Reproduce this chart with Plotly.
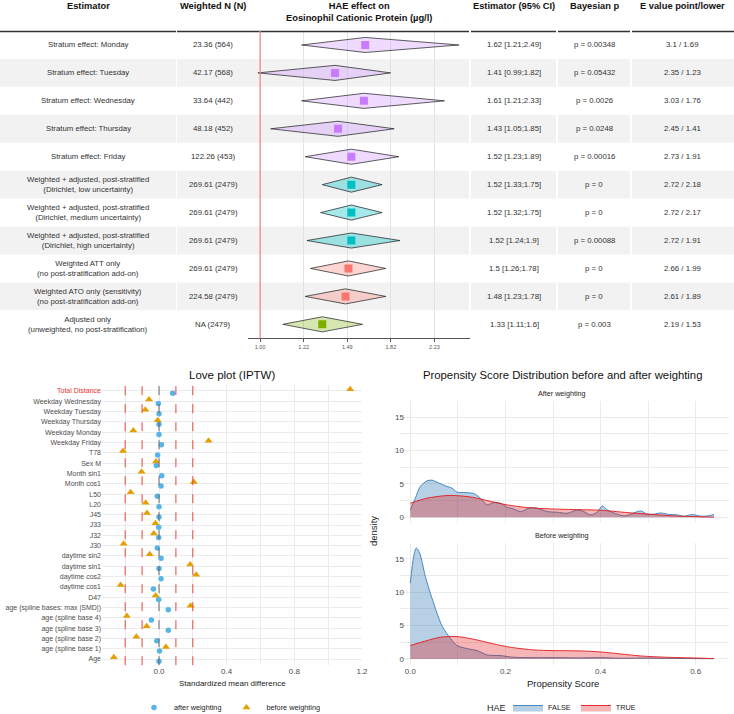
import plotly.graph_objects as go
import math

FONT = "Liberation Sans, Arial, sans-serif"
W, H = 734, 714


def px(x):
    return x / W


def py(y):
    return 1 - y / H


# ---------------- forest table data ----------------
estimators = [
    "Stratum effect: Monday",
    "Stratum effect: Tuesday",
    "Stratum effect: Wednesday",
    "Stratum effect: Thursday",
    "Stratum effect: Friday",
    "Weighted + adjusted, post-stratified<br>(Dirichlet, low uncertainty)",
    "Weighted + adjusted, post-stratified<br>(Dirichlet, medium uncertainty)",
    "Weighted + adjusted, post-stratified<br>(Dirichlet, high uncertainty)",
    "Weighted ATT only<br>(no post-stratification add-on)",
    "Weighted ATO only (sensitivity)<br>(no post-stratification add-on)",
    "Adjusted only<br>(unweighted, no post-stratification)",
]
weighted_n = ["23.36 (564)", "42.17 (568)", "33.64 (442)", "48.18 (452)", "122.26 (453)",
              "269.61 (2479)", "269.61 (2479)", "269.61 (2479)", "269.61 (2479)",
              "224.58 (2479)", "NA (2479)"]
est = [1.62, 1.41, 1.61, 1.43, 1.52, 1.52, 1.52, 1.52, 1.5, 1.48, 1.33]
ci_lo = [1.21, 0.99, 1.21, 1.05, 1.23, 1.33, 1.32, 1.24, 1.26, 1.23, 1.11]
ci_hi = [2.49, 1.82, 2.33, 1.85, 1.89, 1.75, 1.75, 1.9, 1.78, 1.78, 1.6]
p_text = ["p = 0.00348", "p = 0.05432", "p = 0.0026", "p = 0.0248", "p = 0.00016",
          "p = 0", "p = 0", "p = 0.00088", "p = 0", "p = 0", "p = 0.003"]
evalue_text = ["3.1 / 1.69", "2.35 / 1.23", "3.03 / 1.76", "2.45 / 1.41", "2.73 / 1.91",
               "2.72 / 2.18", "2.72 / 2.17", "2.72 / 1.91", "2.66 / 1.99", "2.61 / 1.89",
               "2.19 / 1.53"]
groups = ["strata"] * 5 + ["dirichlet"] * 3 + ["weighted"] * 2 + ["adjusted"]
forest_ticks = [1.0, 1.2214, 1.4918, 1.8221, 2.2255]
forest_ticktext = ["1.00", "1.22", "1.49", "1.82", "2.23"]
headers = ["Estimator", "Weighted N (N)",
           "HAE effect on<br>Eosinophil Cationic Protein (µg/l)",
           "Estimator (95% CI)", "Bayesian p", "E value point/lower"]

# ---------------- love plot data ----------------
covariates = ["Total Distance", "Weekday Wednesday", "Weekday Tuesday", "Weekday Thursday",
              "Weekday Monday", "Weekday Friday", "T78", "Sex M", "Month sin1", "Month cos1",
              "L50", "L20", "J45", "J33", "J32", "J30", "daytime sin2", "daytime sin1",
              "daytime cos2", "daytime cos1", "D47", "age (spline bases: max |SMD|)",
              "age (spline base 4)", "age (spline base 3)", "age (spline base 2)",
              "age (spline base 1)", "Age"]
smd_before = [1.13, -0.059, -0.081, -0.008, -0.152, 0.293, -0.213, -0.018, -0.103, 0.206,
              -0.168, -0.079, -0.071, -0.021, -0.031, -0.209, -0.055, 0.184, 0.22, -0.227,
              -0.02, 0.186, -0.19, -0.073, -0.134, 0.041, -0.267]
smd_after = [0.081, -0.004, 0.0, 0.0, 0.0, 0.014, -0.008, -0.016, 0.016, 0.012,
             -0.01, 0.0, 0.0, -0.002, -0.002, -0.01, 0.012, 0.0, 0.012, -0.033,
             -0.002, 0.055, -0.045, 0.055, -0.013, 0.003, 0.0]
smd_thresholds = [-0.2, -0.1, 0.1, 0.2]
love_xgrid = [-0.2, 0.0, 0.2, 0.4, 0.6, 0.8, 1.0, 1.2]
love_xlabels = ["", "0.0", "", "0.4", "", "0.8", "", "1.2"]

# ---------------- propensity density data ----------------
before_false_x = [0, 0.007, 0.0126, 0.0197, 0.0316, 0.049, 0.0667, 0.0842, 0.0982, 0.1193,
                  0.1404, 0.1614, 0.1895, 0.2175, 0.2596, 0.3017, 0.3579, 0.4, 0.4421,
                  0.4982, 0.5404, 0.5965, 0.6386]
before_false_y = [11.35, 15.35, 16.6, 15.85, 12.35, 8.35, 4.95, 3.1, 2.0, 1.55,
                  1.25, 0.6, 0.5, 0.25, 0.2, 0.2, 0.15, 0.2, 0.1,
                  0.15, 0.1, 0.05, 0.05]
before_true_x = [0, 0.035, 0.0632, 0.0982, 0.1333, 0.1754, 0.2105, 0.2596, 0.3017, 0.3579,
                 0.4, 0.4421, 0.4842, 0.5404, 0.5965, 0.6386]
before_true_y = [2.0, 2.75, 3.25, 3.35, 2.95, 2.25, 1.75, 1.35, 1.25, 1.2,
                 1.05, 0.75, 0.45, 0.25, 0.15, 0.05]
after_false_x = [0, 0.0105, 0.021, 0.035, 0.0456, 0.0561, 0.0737, 0.0877, 0.0982, 0.1123,
                 0.1333, 0.1474, 0.1614, 0.1754, 0.1895, 0.2035, 0.2175, 0.2316, 0.2526,
                 0.2667, 0.2877, 0.3088, 0.3298, 0.3509, 0.3649, 0.3789, 0.393, 0.4035,
                 0.414, 0.4316, 0.4491, 0.4632, 0.4842, 0.4982, 0.5123, 0.5263, 0.5404,
                 0.5614, 0.5754, 0.593, 0.6105, 0.6246, 0.6386]
after_false_y = [1.1, 2.85, 4.6, 5.45, 5.55, 5.25, 4.7, 4.35, 3.75, 3.7,
                 3.55, 2.85, 1.85, 2.2, 2.1, 1.5, 1.25, 0.85, 1.45,
                 1.35, 0.85, 0.75, 0.6, 1.1, 0.85, 0.35, 0.75, 1.7,
                 1.1, 0.55, 0.2, 0.45, 0.95, 0.45, 0.45, 0.65, 0.45,
                 0.35, 0.15, 0.4, 0.15, 0.2, 0.4]
after_true_x = [0, 0.035, 0.0772, 0.1053, 0.1333, 0.1614, 0.2035, 0.2456, 0.2947, 0.3439,
                0.4, 0.4561, 0.5053, 0.5544, 0.5965, 0.6386]
after_true_y = [2.1, 2.85, 3.25, 3.2, 2.95, 2.5, 1.85, 1.45, 1.25, 1.15,
                1.05, 0.7, 0.45, 0.2, 0.1, 0.0]
ps_xgrid = [0.0, 0.1, 0.2, 0.3, 0.4, 0.5, 0.6]
ps_xlabels = ["0.0", "", "0.2", "", "0.4", "", "0.6"]
ps_ygrid = [0, 2.5, 5, 7.5, 10, 12.5, 15]
ps_ylabels = ["0", "", "5", "", "10", "", "15"]

# ---------------- styles ----------------
group_marker = {"strata": "#C77CFF", "dirichlet": "#00BFC4", "weighted": "#F8766D", "adjusted": "#7CAE00"}
group_fill = {"strata": "rgba(199,124,255,0.28)", "dirichlet": "rgba(0,191,196,0.35)",
              "weighted": "rgba(248,118,109,0.3)", "adjusted": "rgba(124,174,0,0.3)"}
col_segments = [(0, 176), (177, 469), (471, 556), (558, 630), (632, 734)]
text_cols_x = [88, 213, 359, 514, 594, 682]
TXT = "#333333"

fig = go.Figure()
shapes = []
annotations = []

n_rows = len(estimators)
# row bands
for i in range(n_rows):
    if i % 2 == 1:
        for a, b in col_segments:
            shapes.append(dict(type="rect", xref="paper", yref="y", x0=px(a), x1=px(b),
                               y0=i - 0.5, y1=i + 0.5, fillcolor="#F2F2F2", line_width=0,
                               layer="below"))
# header line
for a, b in col_segments:
    shapes.append(dict(type="line", xref="paper", yref="paper", x0=px(a), x1=px(b),
                       y0=py(31.5), y1=py(31.5), line=dict(color="#333333", width=1.3)))
# reference line at 1
shapes.append(dict(type="line", xref="x", yref="y domain", x0=1, x1=1, y0=0, y1=1,
                   line=dict(color="#F28B8B", width=1.3)))

# headers
for xc, h in zip(text_cols_x, headers):
    annotations.append(dict(xref="paper", yref="paper", x=px(xc), y=py(-1), text=f"<b>{h}</b>",
                            showarrow=False, xanchor="center", yanchor="top",
                            font=dict(family=FONT, size=9.3, color="#111111")))

# table text
for i in range(n_rows):
    ci_txt = f"{est[i]:g} [{ci_lo[i]:g};{ci_hi[i]:g}]"
    for xc, t in zip([text_cols_x[0], text_cols_x[1], text_cols_x[3], text_cols_x[4], text_cols_x[5]],
                     [estimators[i], weighted_n[i], ci_txt, p_text[i], evalue_text[i]]):
        annotations.append(dict(xref="paper", yref="y", x=px(xc), y=i, text=t, showarrow=False,
                                xanchor="center", yanchor="middle",
                                font=dict(family=FONT, size=7.8, color=TXT)))

# diamonds
h = 0.27
for i in range(n_rows):
    g = groups[i]
    fig.add_trace(go.Scatter(x=[ci_lo[i], est[i], ci_hi[i], est[i], ci_lo[i]],
                             y=[i, i - h, i, i + h, i], mode="lines", fill="toself",
                             fillcolor=group_fill[g], line=dict(color="#1a1a1a", width=0.7),
                             showlegend=False, hoverinfo="skip", xaxis="x", yaxis="y"))
for g in ["strata", "dirichlet", "weighted", "adjusted"]:
    idx = [i for i in range(n_rows) if groups[i] == g]
    fig.add_trace(go.Scatter(x=[est[i] for i in idx], y=idx, mode="markers",
                             marker=dict(symbol="square", size=8, color=group_marker[g]),
                             showlegend=False, xaxis="x", yaxis="y"))

# ---------------- love plot ----------------
n_cov = len(covariates)
ypos = [n_cov - 1 - i for i in range(n_cov)]
for t in smd_thresholds:
    shapes.append(dict(type="line", xref="x2", yref="y2 domain", x0=t, x1=t, y0=0, y1=1,
                       line=dict(color="#E8443A", width=1, dash="dash")))
shapes.append(dict(type="line", xref="x2", yref="y2 domain", x0=0, x1=0, y0=0, y1=1,
                   line=dict(color="#666666", width=1, dash="dash")))

fig.add_trace(go.Scatter(x=smd_after, y=[y - 0.22 for y in ypos], mode="markers",
                         name="after weighting",
                         marker=dict(symbol="circle", size=5.5, color="#56B4E9"),
                         xaxis="x2", yaxis="y2", legend="legend"))
fig.add_trace(go.Scatter(x=smd_before, y=[y + 0.17 for y in ypos], mode="markers",
                         name="before weighting",
                         marker=dict(symbol="triangle-up", size=7, color="#E69F00"),
                         xaxis="x2", yaxis="y2", legend="legend"))

cov_ticktext = [f'<span style="color:#E8312F">{c}</span>' if c == "Total Distance" else c
                for c in covariates]

# ---------------- propensity densities ----------------
BLUE, RED = "#377EB8", "#E41A1C"
BLUE_F, RED_F = "rgba(55,126,184,0.36)", "rgba(228,26,28,0.32)"
for (xs, ys, ax, show) in [(after_false_x, after_false_y, 3, False), (before_false_x, before_false_y, 4, True)]:
    fig.add_trace(go.Scatter(x=xs, y=ys, mode="lines", fill="tozeroy", fillcolor=BLUE_F,
                             line=dict(color=BLUE, width=0.9, shape="spline", smoothing=0.8),
                             name="FALSE", legendgroup="F", showlegend=show,
                             xaxis=f"x{ax}", yaxis=f"y{ax}", legend="legend2"))
for (xs, ys, ax, show) in [(after_true_x, after_true_y, 3, False), (before_true_x, before_true_y, 4, True)]:
    fig.add_trace(go.Scatter(x=xs, y=ys, mode="lines", fill="tozeroy", fillcolor=RED_F,
                             line=dict(color=RED, width=0.9, shape="spline", smoothing=0.8),
                             name="TRUE", legendgroup="T", showlegend=show,
                             xaxis=f"x{ax}", yaxis=f"y{ax}", legend="legend2"))

# titles / labels
annotations += [
    dict(xref="paper", yref="paper", x=px(232), y=py(375), text="Love plot (IPTW)", showarrow=False,
         xanchor="center", yanchor="middle", font=dict(family=FONT, size=11.5, color="#111111")),
    dict(xref="paper", yref="paper", x=px(562), y=py(375),
         text="Propensity Score Distribution before and after weighting", showarrow=False,
         xanchor="center", yanchor="middle", font=dict(family=FONT, size=11.3, color="#111111")),
    dict(xref="paper", yref="paper", x=px(562), y=py(393), text="After weighting", showarrow=False,
         xanchor="center", yanchor="middle", font=dict(family=FONT, size=7.2, color="#222222")),
    dict(xref="paper", yref="paper", x=px(562), y=py(535), text="Before weighting", showarrow=False,
         xanchor="center", yanchor="middle", font=dict(family=FONT, size=7.2, color="#222222")),
    dict(xref="paper", yref="paper", x=px(232), y=py(683), text="Standardized mean difference",
         showarrow=False, xanchor="center", yanchor="middle",
         font=dict(family=FONT, size=8, color="#222222")),
    dict(xref="paper", yref="paper", x=px(563), y=py(683), text="Propensity Score",
         showarrow=False, xanchor="center", yanchor="middle",
         font=dict(family=FONT, size=9.5, color="#222222")),
    dict(xref="paper", yref="paper", x=px(373), y=py(531), text="density", textangle=-90,
         showarrow=False, xanchor="center", yanchor="middle",
         font=dict(family=FONT, size=9.5, color="#222222")),
    dict(xref="paper", yref="paper", x=px(508), y=py(707.5), text="HAE",
         showarrow=False, xanchor="right", yanchor="middle",
         font=dict(family=FONT, size=9, color="#222222")),
]

GRID = "#EBEBEB"
yden = dict(range=[-0.83, 17.43], tickvals=ps_ygrid, ticktext=ps_ylabels, showgrid=True,
            gridcolor=GRID, zeroline=False, ticks="", automargin=False, ticklabelstandoff=-5,
            tickfont=dict(size=8, color="#4D4D4D"))
fig.update_layout(
    width=W, height=H, margin=dict(l=0, r=0, t=0, b=0, pad=0, autoexpand=False),
    paper_bgcolor="white", plot_bgcolor="rgba(0,0,0,0)",
    font=dict(family=FONT, color=TXT),
    shapes=shapes, annotations=annotations,
    xaxis=dict(domain=[px(248), px(470)], type="log",
               range=[math.log10(0.946), math.log10(2.62)],
               tickvals=forest_ticks, ticktext=forest_ticktext, automargin=False,
               showgrid=True, gridcolor="#E3E3E3", gridwidth=0.8, zeroline=False,
               showline=True, linecolor="#555555", linewidth=0.8,
               ticks="outside", ticklen=3, tickcolor="#555555",
               tickfont=dict(size=5.5, color="#555555"), anchor="y"),
    yaxis=dict(domain=[py(338.3), py(31.0)], range=[n_rows - 0.5, -0.5], visible=False,
               showgrid=False, zeroline=False, anchor="x", automargin=False),
    xaxis2=dict(domain=[px(102), px(362)], range=[-0.337, 1.2], tickvals=love_xgrid,
                ticktext=love_xlabels, showgrid=True, gridcolor=GRID, zeroline=False,
                tickfont=dict(size=8, color="#4D4D4D"), anchor="y2", ticks="", automargin=False),
    yaxis2=dict(domain=[py(665.2), py(384.8)], range=[-0.6, n_cov - 0.4], tickvals=ypos,
                ticktext=cov_ticktext, showgrid=True, gridcolor=GRID, zeroline=False,
                tickfont=dict(size=7, color="#4D4D4D"), anchor="x2", ticks="", automargin=False),
    xaxis3=dict(domain=[px(400), px(729)], range=[-0.0217, 0.670], tickvals=ps_xgrid,
                showticklabels=False, showgrid=True, gridcolor=GRID, zeroline=False,
                anchor="y3", matches="x4", ticks="", automargin=False),
    yaxis3=dict(domain=[py(522.8), py(400.8)], anchor="x3", **yden),
    xaxis4=dict(domain=[px(400), px(729)], range=[-0.0217, 0.670], tickvals=ps_xgrid,
                ticktext=ps_xlabels, showgrid=True, gridcolor=GRID, zeroline=False,
                tickfont=dict(size=8, color="#4D4D4D"), anchor="y4", ticks="", automargin=False),
    yaxis4=dict(domain=[py(664.5), py(542.5)], anchor="x4", **yden),
    legend=dict(orientation="h", x=px(230), y=py(707.5), xanchor="center", yanchor="middle",
                font=dict(family=FONT, size=7.3, color="#222222"), bgcolor="rgba(0,0,0,0)",
                itemwidth=30, tracegroupgap=0),
    legend2=dict(orientation="h", x=px(508), y=py(707.5), xanchor="left", yanchor="middle",
                 font=dict(family=FONT, size=7.3, color="#222222"), bgcolor="rgba(0,0,0,0)",
                 itemwidth=30, traceorder="normal"),
)

fig.write_html("out.html")
